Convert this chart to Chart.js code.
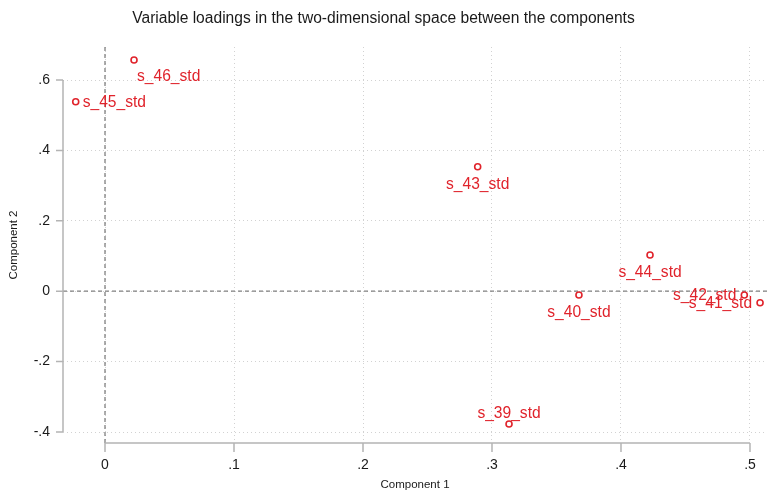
<!DOCTYPE html>
<html lang="en">
<head>
<meta charset="UTF-8">
<title>Variable loadings</title>
<script src="https://cdn.jsdelivr.net/npm/chart.js"></script>
<style>
  body {
    margin: 0;
    padding: 0;
    background: #fff;
  }
  .wrap {
    width: 767px;
    height: 493px;
  }
</style>
</head>
<body>
<div class="wrap"><canvas id="loadings"></canvas></div>

<script>
  // loadings
  const varNames = ['s_39_std', 's_40_std', 's_41_std', 's_42_std', 's_43_std', 's_44_std', 's_45_std', 's_46_std'];
  const comp1 = [0.3132, 0.3674, 0.5078, 0.4956, 0.2889, 0.4225, -0.0227, 0.0225];
  const comp2 = [-0.3773, -0.0108, -0.0327, -0.0108, 0.3537, 0.1028, 0.5384, 0.6568];
  // label position as a clock hour (Stata mlabpos)
  const labelClock = [12, 6, 9, 9, 6, 6, 3, 5];

  const xTicks = [0, 0.1, 0.2, 0.3, 0.4, 0.5];
  const yTicks = [-0.4, -0.2, 0, 0.2, 0.4, 0.6];

  const RED = '#e0232b';
  const FONT = "'Liberation Sans', Arial, sans-serif";

  function stataNum(v) {
    if (Math.abs(v) < 1e-9) return '0';
    return v.toFixed(1).replace('0.', '.');
  }

  // axis lines only over the tick range + dashed reference lines at 0
  const axesPlugin = {
    id: 'axesPlugin',
    beforeDatasetsDraw(chart) {
      const ctx = chart.ctx;
      const area = chart.chartArea;
      const xs = chart.scales.x;
      const ys = chart.scales.y;
      ctx.save();

      ctx.strokeStyle = '#808080';
      ctx.lineWidth = 1.3;
      ctx.setLineDash([4, 3]);
      ctx.beginPath();
      ctx.moveTo(xs.getPixelForValue(0), area.top);
      ctx.lineTo(xs.getPixelForValue(0), area.bottom);
      ctx.moveTo(area.left, ys.getPixelForValue(0));
      ctx.lineTo(area.right, ys.getPixelForValue(0));
      ctx.stroke();

      ctx.setLineDash([]);
      ctx.strokeStyle = '#b4b4b4';
      ctx.lineWidth = 1.5;
      ctx.beginPath();
      const y0 = ys.getPixelForValue(yTicks[0]);
      const y1 = ys.getPixelForValue(yTicks[yTicks.length - 1]);
      ctx.moveTo(area.left, y0);
      ctx.lineTo(area.left, y1);
      yTicks.forEach(function (t) {
        const p = ys.getPixelForValue(t);
        ctx.moveTo(area.left, p);
        ctx.lineTo(area.left - 7, p);
      });
      const x0 = xs.getPixelForValue(xTicks[0]);
      const x1 = xs.getPixelForValue(xTicks[xTicks.length - 1]);
      ctx.moveTo(x0, area.bottom);
      ctx.lineTo(x1, area.bottom);
      xTicks.forEach(function (t) {
        const p = xs.getPixelForValue(t);
        ctx.moveTo(p, area.bottom);
        ctx.lineTo(p, area.bottom + 9);
      });
      ctx.stroke();
      ctx.restore();
    }
  };

  // marker labels placed around the point like Stata does
  const labelPlugin = {
    id: 'labelPlugin',
    afterDatasetsDraw(chart) {
      const ctx = chart.ctx;
      const meta = chart.getDatasetMeta(0);
      ctx.save();
      ctx.font = '15.6px ' + FONT;
      ctx.fillStyle = RED;
      meta.data.forEach(function (pt, i) {
        const c = labelClock[i];
        let x = pt.x, y = pt.y;
        if (c === 3) { ctx.textAlign = 'left'; x += 7; y += 1; }
        else if (c === 9) { ctx.textAlign = 'right'; x -= 8; y += 1; }
        else if (c === 6) { ctx.textAlign = 'center'; y += 18; }
        else if (c === 12) { ctx.textAlign = 'center'; y -= 10; }
        else if (c === 5) { ctx.textAlign = 'left'; x += 3; y += 17; }
        ctx.textBaseline = 'middle';
        ctx.fillText(varNames[i], x, y);
      });
      ctx.restore();
    }
  };

  const points = comp1.map(function (v, i) { return { x: v, y: comp2[i] }; });

  new Chart(document.getElementById('loadings'), {
    type: 'scatter',
    data: {
      datasets: [{
        data: points,
        pointStyle: 'circle',
        pointRadius: 3,
        pointHoverRadius: 3,
        pointBorderWidth: 1.6,
        pointBorderColor: RED,
        pointBackgroundColor: '#fff'
      }]
    },
    options: {
      responsive: true,
      maintainAspectRatio: false,
      animation: false,
      layout: { autoPadding: false, padding: { left: 0, right: 0, top: 0, bottom: 0 } },
      plugins: {
        legend: { display: false },
        tooltip: { enabled: false },
        title: {
          display: true,
          text: 'Variable loadings in the two-dimensional space between the components',
          color: '#1a1a1a',
          font: { family: FONT, size: 15.6, weight: 'normal', lineHeight: 1.2 },
          padding: { top: 9, bottom: 19.3 }
        }
      },
      scales: {
        x: {
          type: 'linear',
          min: -0.03256,
          max: 0.51318,
          afterBuildTicks: function (s) { s.ticks = xTicks.map(function (v) { return { value: v }; }); },
          afterFit: function (s) { s.height = 50; s.paddingLeft = 0; s.paddingRight = 0; },
          ticks: {
            padding: 14,
            color: '#1a1a1a',
            font: { family: FONT, size: 14 },
            callback: function (v) { return stataNum(v); }
          },
          grid: { color: '#d2d2d2', lineWidth: 1, drawTicks: false },
          border: { display: false, dash: [1, 3] },
          title: {
            display: true,
            text: 'Component 1',
            color: '#1a1a1a',
            font: { family: FONT, size: 11.5, lineHeight: 1.2 },
            padding: { top: 0, bottom: 1 }
          }
        },
        y: {
          type: 'linear',
          min: -0.43125,
          max: 0.69375,
          afterBuildTicks: function (s) { s.ticks = yTicks.map(function (v) { return { value: v }; }); },
          afterFit: function (s) { s.width = 63; s.paddingTop = 0; s.paddingBottom = 0; },
          ticks: {
            padding: 13,
            color: '#1a1a1a',
            font: { family: FONT, size: 14 },
            callback: function (v) { return stataNum(v); }
          },
          grid: { color: '#d2d2d2', lineWidth: 1, drawTicks: false },
          border: { display: false, dash: [1, 3] },
          title: {
            display: true,
            text: 'Component 2',
            color: '#1a1a1a',
            font: { family: FONT, size: 11.5, lineHeight: 1.2 },
            padding: { top: 7, bottom: 0 }
          }
        }
      }
    },
    plugins: [axesPlugin, labelPlugin]
  });
</script>
</body>
</html>
